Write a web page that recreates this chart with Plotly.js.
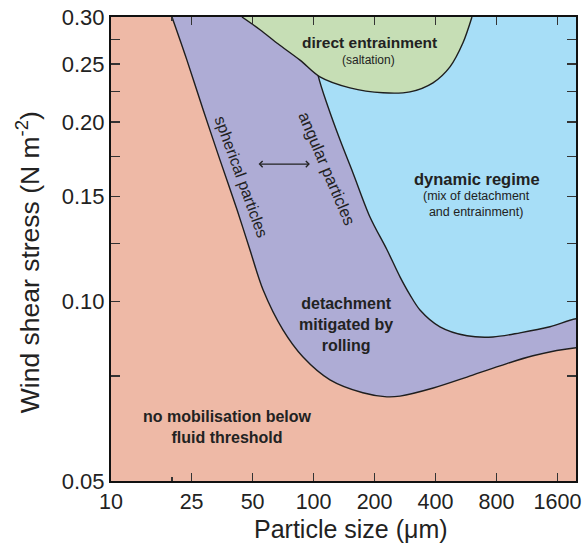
<!DOCTYPE html>
<html><head><meta charset="utf-8">
<script src="https://cdn.plot.ly/plotly-3.0.1.min.js"></script>
<style>html,body{margin:0;padding:0;background:#fff}</style>
</head><body><div id="chart" style="width:583px;height:543px"></div>
<script>
// ---- data (particle size in µm, wind shear stress in N m^-2) ----
// fluid-threshold boundary (no mobilisation below / detachment above)
const lowerX = [20.0, 23.7, 28.5, 34.5, 41.9, 48.5, 56.3, 70.6, 88.7, 120.5, 175, 230, 267, 390, 572, 832, 1210, 2000];
const lowerY = [0.300, 0.254, 0.2097, 0.1728, 0.1425, 0.1221, 0.1046, 0.0896, 0.0807, 0.0739, 0.0703, 0.0692, 0.0694, 0.0716, 0.0747, 0.0780, 0.0811, 0.0837];
// boundary between detachment (rolling) and dynamic regime
const upperX = [105.1, 117.8, 135.0, 156.5, 189.8, 230.3, 267.0, 299.1, 335.1, 420.6, 572, 768, 1044, 1469, 2000];
const upperY = [0.240, 0.2121, 0.1867, 0.1643, 0.1386, 0.1221, 0.1100, 0.1026, 0.0968, 0.0907, 0.0876, 0.0872, 0.0886, 0.0907, 0.0936];
// direct entrainment (saltation) boundary
const greenX = [44.3, 54.4, 66.7, 85.7, 107.5, 151.2, 220.1, 299.1, 388.5, 471.2, 546.3, 605.0];
const greenY = [0.300, 0.2856, 0.2705, 0.254, 0.2381, 0.2282, 0.2239, 0.2247, 0.2327, 0.2475, 0.2716, 0.300];
// axis ticks
const xTickVals = [10, 25, 50, 100, 200, 400, 800, 1600];
const xTickText = ['10', '25', '50', '100', '200', '400', '800', '1600'];
const xMinorVals = [20];
const yTickVals = [0.05, 0.10, 0.15, 0.20, 0.25, 0.30];
const yTickText = ['0.05', '0.10', '0.15', '0.20', '0.25', '0.30'];
const yMinorVals = [0.075, 0.125, 0.175, 0.225, 0.275];
// axis limits
const xMin = 10, xMax = 1974, yMin = 0.05, yMax = 0.30;
// hidden start of the dynamic-regime region (under the saltation region)
const blueStartX = 93.8, blueStartY = 0.30;
// axis titles
const xTitle = 'Particle size (μm)';
const yTitle = 'Wind shear stress (N m<sup>-2</sup>)';
// labels
const labels = [
  {text: '<b>direct entrainment</b>', x: 189.8, y: 0.2716, size: 15.5, angle: 0},
  {text: '(saltation)', x: 187.7, y: 0.254, size: 12, angle: 0},
  {text: '<b>dynamic regime</b>', x: 640, y: 0.1606, size: 16.5, angle: 0},
  {text: '(mix of detachment<br>and entrainment)', x: 640, y: 0.1458, size: 12.5, angle: 0},
  {text: '<b>detachment<br>mitigated by<br>rolling</b>', x: 144.5, y: 0.0914, size: 16, angle: 0},
  {text: '<b>no mobilisation below<br>fluid threshold</b>', x: 37.4, y: 0.0617, size: 16, angle: 0},
  {text: 'spherical particles', x: 43.8, y: 0.1618, size: 16, angle: 70},
  {text: 'angular particles', x: 116.5, y: 0.1675, size: 16.5, angle: 67}
];
const arrowFrom = [52.6, 0.170], arrowTo = [95.9, 0.170];

const cSalmon = '#EEB9A6', cPurple = '#AEACD5', cBlue = '#A7DEF7', cGreen = '#C6DEB5', cLine = '#1e1e1e';
const FONT = 'Liberation Sans, Arial, Helvetica, sans-serif';
const xEdge = 2600, yEdge = 0.34;
const edgeLine = {color: cLine, width: 1.4, shape: 'spline', smoothing: 0.9};

const traces = [
  { // detachment region (its line is the fluid-threshold boundary)
    x: lowerX.concat([xEdge, xEdge, lowerX[0]]),
    y: lowerY.concat([lowerY[lowerY.length - 1], yEdge, yEdge]),
    mode: 'lines', fill: 'toself', fillcolor: cPurple, line: edgeLine, hoverinfo: 'skip'
  },
  { // dynamic regime
    x: [blueStartX].concat(upperX, [xEdge, xEdge, blueStartX]),
    y: [blueStartY].concat(upperY, [upperY[upperY.length - 1], yEdge, yEdge]),
    mode: 'lines', fill: 'toself', fillcolor: cBlue, line: edgeLine, hoverinfo: 'skip'
  },
  { // direct entrainment
    x: greenX, y: greenY,
    mode: 'lines', fill: 'toself', fillcolor: cGreen, line: edgeLine, hoverinfo: 'skip'
  }
];

const annotations = labels.map(l => ({
  text: l.text, x: Math.log10(l.x), y: Math.log10(l.y), xref: 'x', yref: 'y',
  showarrow: false, textangle: l.angle, align: 'center',
  font: {family: FONT, size: l.size, color: '#222'}
}));
annotations.push({
  text: '', x: Math.log10(arrowTo[0]), y: Math.log10(arrowTo[1]),
  ax: Math.log10(arrowFrom[0]), ay: Math.log10(arrowFrom[1]), axref: 'x', ayref: 'y', xref: 'x', yref: 'y',
  showarrow: true, arrowside: 'end+start', arrowhead: 4, arrowsize: 1, arrowwidth: 1.2, arrowcolor: '#222', standoff: 0, startstandoff: 0
});
// axis titles placed as annotations in paper space
annotations.push({
  text: xTitle, xref: 'paper', yref: 'paper', x: 0.516, y: -0.1034, xanchor: 'center', yanchor: 'middle',
  showarrow: false, font: {family: FONT, size: 25, color: '#222'}
});
annotations.push({
  text: yTitle, xref: 'paper', yref: 'paper', x: -0.178, y: 0.472, xanchor: 'center', yanchor: 'middle',
  textangle: -90, showarrow: false, font: {family: FONT, size: 26.5, color: '#222'}
});

const axisCommon = {
  showgrid: false, zeroline: false, showline: true, linewidth: 2, linecolor: '#111',
  mirror: 'ticks', ticks: 'inside', tickcolor: '#333', tickwidth: 1.5
};

const layout = {
  width: 583, height: 543,
  margin: {l: 111, r: 7, t: 17, b: 62},
  paper_bgcolor: '#ffffff', plot_bgcolor: cSalmon,
  showlegend: false,
  font: {family: FONT, color: '#222'},
  xaxis: Object.assign({}, axisCommon, {
    type: 'log', range: [Math.log10(xMin), Math.log10(xMax)],
    tickmode: 'array', tickvals: xTickVals, ticktext: xTickText, ticklen: 8,
    tickfont: {family: FONT, size: 21.5, color: '#222'},
    minor: {tickmode: 'array', tickvals: xMinorVals, ticks: 'inside', ticklen: 4, tickcolor: '#333', tickwidth: 1.5, showgrid: false}
  }),
  yaxis: Object.assign({}, axisCommon, {
    type: 'log', range: [Math.log10(yMin), Math.log10(yMax)],
    tickmode: 'array', tickvals: yTickVals, ticktext: yTickText, ticklen: 9,
    tickfont: {family: FONT, size: 22, color: '#222'},
    minor: {tickmode: 'array', tickvals: yMinorVals, ticks: 'inside', ticklen: 9, tickcolor: '#333', tickwidth: 1.5, showgrid: false}
  }),
  annotations: annotations
};

Plotly.newPlot('chart', traces, layout, {displayModeBar: false, staticPlot: true});
</script>
</body></html>
